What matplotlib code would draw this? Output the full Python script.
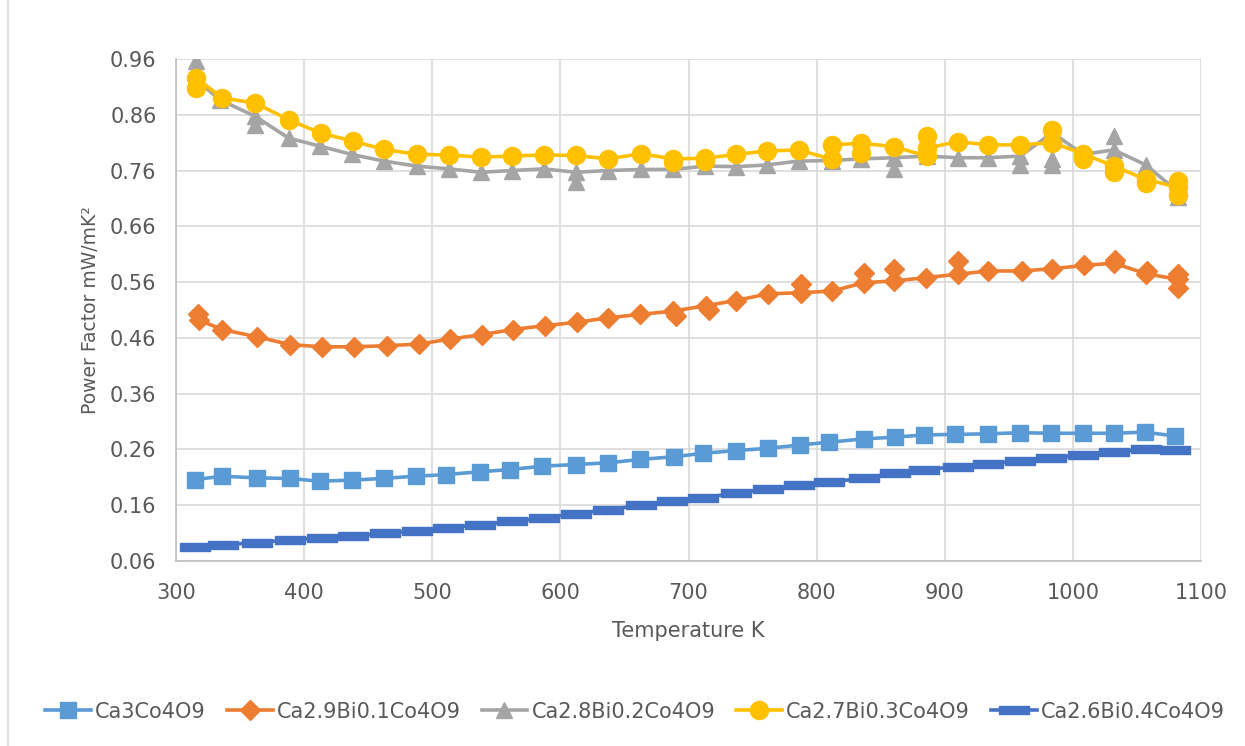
import numpy as np
import matplotlib.pyplot as plt
from matplotlib.path import Path
from matplotlib.lines import Line2D

plt.rcParams['font.family'] = ['DejaVu Sans']

# ---- data ----
names = ["Ca3Co4O9", "Ca2.9Bi0.1Co4O9", "Ca2.8Bi0.2Co4O9", "Ca2.7Bi0.3Co4O9", "Ca2.6Bi0.4Co4O9"]

t_ca3 = [315, 336, 363, 389, 412, 437, 462, 487, 511, 537, 561, 586, 612, 637, 662, 689,
         711, 737, 762, 787, 810, 837, 861, 884, 908, 934, 959, 983, 1008, 1032, 1056, 1080]
pf_ca3 = [0.206, 0.212, 0.209, 0.208, 0.203, 0.205, 0.208, 0.212, 0.215, 0.220, 0.224, 0.230,
          0.233, 0.236, 0.242, 0.247, 0.253, 0.258, 0.262, 0.268, 0.273, 0.279, 0.282, 0.286,
          0.287, 0.288, 0.290, 0.289, 0.289, 0.289, 0.291, 0.284]

t_bi1 = [318, 336, 363, 389, 414, 439, 465, 490, 514, 539, 563, 588, 613, 637, 662, 688,
         714, 737, 762, 788, 812, 837, 860, 885, 910, 934, 960, 984, 1009, 1032, 1057, 1082]
pf_bi1 = [0.492, 0.475, 0.462, 0.448, 0.444, 0.444, 0.446, 0.449, 0.458, 0.466, 0.475, 0.482,
          0.488, 0.496, 0.502, 0.508, 0.518, 0.527, 0.539, 0.541, 0.544, 0.559, 0.562, 0.568,
          0.574, 0.580, 0.580, 0.584, 0.590, 0.594, 0.575, 0.565]
t_bi1_x = [317, 690, 716, 788, 837, 860, 910, 1033, 1058, 1082, 1082]
pf_bi1_x = [0.502, 0.500, 0.510, 0.556, 0.577, 0.583, 0.598, 0.599, 0.580, 0.574, 0.549]

t_bi2 = [316, 334, 362, 388, 412, 437, 462, 488, 513, 538, 562, 587, 612, 637, 663, 688,
         713, 737, 761, 786, 812, 835, 860, 886, 910, 934, 959, 984, 1008, 1032, 1057, 1082]
pf_bi2 = [0.923, 0.887, 0.857, 0.818, 0.804, 0.789, 0.777, 0.768, 0.763, 0.757, 0.760, 0.763,
          0.757, 0.760, 0.762, 0.762, 0.768, 0.767, 0.770, 0.777, 0.778, 0.781, 0.783, 0.786,
          0.783, 0.783, 0.786, 0.828, 0.789, 0.797, 0.770, 0.722]
t_bi2_x = [316, 362, 612, 860, 959, 984, 984, 1032, 1082]
pf_bi2_x = [0.956, 0.842, 0.739, 0.762, 0.770, 0.780, 0.770, 0.822, 0.712]

t_bi3 = [316, 336, 362, 388, 413, 438, 462, 488, 513, 538, 562, 587, 612, 637, 663, 688,
         713, 737, 761, 786, 812, 812, 835, 860, 886, 886, 910, 934, 959, 984, 1008, 1032, 1057, 1082]
pf_bi3 = [0.926, 0.890, 0.881, 0.851, 0.827, 0.813, 0.798, 0.789, 0.788, 0.784, 0.786, 0.788,
          0.787, 0.781, 0.790, 0.781, 0.782, 0.789, 0.795, 0.797, 0.780, 0.806, 0.809, 0.803,
          0.786, 0.800, 0.812, 0.806, 0.806, 0.810, 0.790, 0.768, 0.744, 0.730]
t_bi3_x = [316, 688, 713, 835, 886, 984, 1008, 1032, 1057, 1082, 1082]
pf_bi3_x = [0.908, 0.775, 0.778, 0.792, 0.822, 0.833, 0.780, 0.758, 0.738, 0.741, 0.716]

t_bi4 = [315, 337, 363, 389, 414, 438, 463, 488, 512, 537, 562, 587, 612, 637, 663, 687,
         711, 737, 762, 786, 810, 837, 861, 884, 910, 934, 959, 983, 1008, 1032, 1057, 1080]
pf_bi4 = [0.085, 0.089, 0.093, 0.098, 0.101, 0.104, 0.110, 0.114, 0.120, 0.125, 0.131, 0.137,
          0.145, 0.152, 0.160, 0.167, 0.173, 0.182, 0.189, 0.197, 0.201, 0.209, 0.217, 0.224,
          0.229, 0.234, 0.240, 0.245, 0.250, 0.255, 0.261, 0.259]

colors = ['#5B9BD5', '#ED7D31', '#A5A5A5', '#FFC000', '#4472C4']
txt = '#595959'

dash = Path([(-1, -0.25), (1, -0.25), (1, 0.25), (-1, 0.25), (-1, -0.25)],
            [Path.MOVETO, Path.LINETO, Path.LINETO, Path.LINETO, Path.CLOSEPOLY])

fig = plt.figure(figsize=(12.45, 7.46), dpi=100)
ax = fig.add_axes([176 / 1245, 185 / 746, 1025 / 1245, 502 / 746])

series = [
    (t_ca3, pf_ca3, None, None, 's', 11),
    (t_bi1, pf_bi1, t_bi1_x, pf_bi1_x, 'D', 10),
    (t_bi2, pf_bi2, t_bi2_x, pf_bi2_x, '^', 12),
    (t_bi3, pf_bi3, t_bi3_x, pf_bi3_x, 'o', 13),
    (t_bi4, pf_bi4, None, None, dash, 21),
]
for (tx, ty, ex, ey, mk, ms), c, nm in zip(series, colors, names):
    ax.plot(tx, ty, color=c, lw=2.6, marker=mk, ms=ms, mec=c, mfc=c, label=nm)
    if ex is not None:
        ax.plot(ex, ey, ls='none', marker=mk, ms=ms, mec=c, mfc=c)

ax.set_xlim(300, 1100)
ax.set_ylim(0.06, 0.96)
ax.set_xticks(np.arange(300, 1101, 100))
ax.set_yticks(np.round(np.arange(0.06, 0.961, 0.1), 2))
ax.set_yticklabels([f"{v:.2f}" for v in ax.get_yticks()])
ax.grid(True, color='#D9D9D9', lw=1.2)
ax.set_axisbelow(True)
for s in ['top', 'right']:
    ax.spines[s].set_visible(False)
for s in ['left', 'bottom']:
    ax.spines[s].set_color('#BFBFBF')
    ax.spines[s].set_linewidth(1.2)
ax.tick_params(length=0, labelsize=15, labelcolor=txt)
ax.tick_params(axis='x', pad=16)
ax.tick_params(axis='y', pad=14)

ax.set_xlabel("Temperature K", fontsize=15, color=txt, labelpad=13)
ax.set_ylabel("Power Factor mW/mK²", fontsize=13.5, color=txt, labelpad=7)

handles = [Line2D([], [], color=c, lw=2.6, marker=mk, ms=ms, mec=c, mfc=c)
           for (_, _, _, _, mk, ms), c in zip(series, colors)]
fig.legend(handles, names, loc='center', bbox_to_anchor=(0.51, 0.046), ncol=5,
           frameon=False, fontsize=15, labelcolor=txt, handlelength=2.2,
           handletextpad=0.2, columnspacing=1.0)

fig.add_artist(Line2D([8 / 1245, 8 / 1245], [0, 1], color='#D9D9D9', lw=1.2,
                      transform=fig.transFigure))

fig.savefig('out.png', dpi=100)
